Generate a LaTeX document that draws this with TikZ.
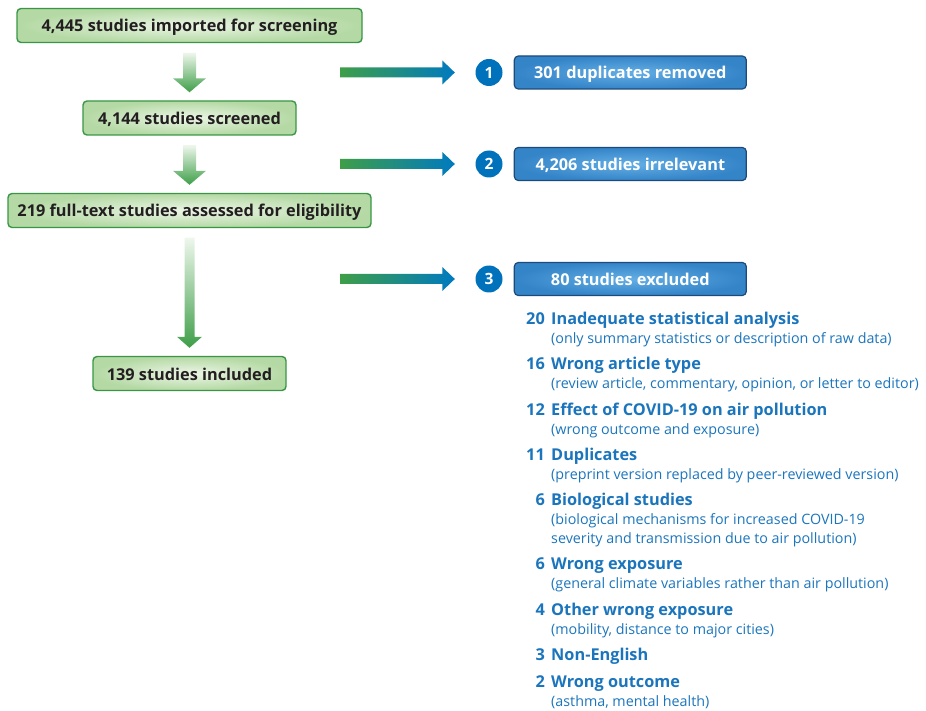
\documentclass[tikz,border=0pt]{standalone}
\usepackage{fontspec}
\setmainfont{Open Sans}
\usetikzlibrary{positioning}
\usetikzlibrary{calc}

\definecolor{edgegreen}{RGB}{58,150,70}
\definecolor{glowgreen}{RGB}{236,246,230}
\definecolor{rimgreen}{RGB}{180,217,164}
\definecolor{flowgreen}{RGB}{62,158,72}
\definecolor{flowlight}{RGB}{238,247,236}
\definecolor{flowblue}{RGB}{0,122,192}
\definecolor{dotblue}{RGB}{0,114,188}
\definecolor{glowblue}{RGB}{100,174,228}
\definecolor{rimblue}{RGB}{52,132,200}
\definecolor{edgeblue}{RGB}{28,75,122}
\definecolor{listblue}{RGB}{27,117,188}
\definecolor{ink}{RGB}{35,31,32}

% fat shaded arrow between two stacked boxes
\newcommand{\vflow}[5]{%
  \shade[top color=flowlight, bottom color=flowgreen]
    let \p1=(#1.south), \p2=(#2.north) in
    (\x1-#3,\y1-9.5pt) -- (\x1+#3,\y1-9.5pt) -- (\x1+#3,\y2+8pt+#5)
    -- (\x1+#4,\y2+8pt+#5) -- (\x1,\y2+8pt) -- (\x1-#4,\y2+8pt+#5)
    -- (\x1-#3,\y2+8pt+#5) -- cycle;}
% fat shaded arrow from a free tail to a numbered dot
\newcommand{\hflow}[2]{%
  \shade[left color=flowgreen, right color=flowblue]
    let \p1=(#1), \p2=(#2.west) in
    (\x1,\y1+5pt) -- (\x2-33pt,\y1+5pt) -- (\x2-33pt,\y1+12pt)
    -- (\x2-20.5pt,\y1) -- (\x2-33pt,\y1-12pt) -- (\x2-33pt,\y1-5pt)
    -- (\x1,\y1-5pt) -- cycle;}

\begin{document}
\begin{tikzpicture}[x=1pt, y=-1pt, node distance=92.5pt]
\tikzstyle{stagebox} = [draw=edgegreen, line width=1.4pt, rounded corners=4pt, inner color=glowgreen, outer color=rimgreen, minimum height=34pt, text height=14pt, text depth=1pt, text=ink, font=\fontsize{16.3}{19}\selectfont\bfseries]
\tikzstyle{outcomebox} = [draw=edgeblue, line width=1.2pt, rounded corners=4pt, inner color=glowblue, outer color=rimblue, minimum width=232pt, minimum height=33pt, text height=14pt, text depth=1pt, text=white, font=\fontsize{16.3}{19}\selectfont\bfseries]
\tikzstyle{stepdot} = [circle, fill=dotblue, minimum size=27pt, inner sep=0pt, text=white, font=\fontsize{15.5}{18}\selectfont\bfseries]
\tikzstyle{reason} = [anchor=base west, inner sep=0pt, text=listblue, font=\fontsize{16.3}{19}\selectfont\bfseries]
\tikzstyle{tally} = [anchor=base east, inner sep=0pt, text=listblue, font=\fontsize{16.3}{19}\selectfont\bfseries]
\tikzstyle{remark} = [anchor=base west, inner sep=0pt, text=listblue, font=\fontsize{14.3}{17}\selectfont]

\useasboundingbox (0,0) rectangle (926,711);

\node[stagebox, minimum width=345pt] (imported) at (189.5,25.5) {4,445 studies imported for screening};
\node[stagebox, minimum width=213pt] (screened) [below of=imported] {4,144 studies screened};
\node[stagebox, minimum width=363pt] (assessed) [below of=screened] {219 full-text studies assessed for eligibility};
\node[stagebox, minimum width=193pt, node distance=163pt] (included) [below of=assessed] {139 studies included};

\vflow{imported}{screened}{6.5pt}{16.5pt}{14pt}
\vflow{screened}{assessed}{6.5pt}{16.5pt}{14pt}
\vflow{assessed}{included}{5pt}{12.5pt}{11pt}

\node[stepdot] (dot1) at (489,72.5) {1};
\node[stepdot] (dot2) at (489,164) {2};
\node[stepdot] (dot3) at (489,279) {3};
\node[outcomebox, right=11pt of dot1] (removed) {301 duplicates removed};
\node[outcomebox, right=11pt of dot2] (irrelevant) {4,206 studies irrelevant};
\node[outcomebox, right=11pt of dot3] (excluded) {80 studies excluded};

\coordinate (tail1) at (340,72.5);
\coordinate (tail2) at (340,164);
\coordinate (tail3) at (340,279);
\hflow{tail1}{dot1}
\hflow{tail2}{dot2}
\hflow{tail3}{dot3}

% reasons for exclusion
\node[reason] (why20) at (551,324) {Inadequate statistical analysis};
\node[reason] (why16) at (551,369) {Wrong article type};
\node[reason] (why12) at (551,415) {Effect of COVID-19 on air pollution};
\node[reason] (why11) at (551,460) {Duplicates};
\node[reason] (whybio) at (551,505) {Biological studies};
\node[reason] (whyexp) at (551,569) {Wrong exposure};
\node[reason] (whyother) at (551,615) {Other wrong exposure};
\node[reason] (whylang) at (551,660) {Non-English};
\node[reason] (whyout) at (551,687) {Wrong outcome};

\node[tally] at ([xshift=-6pt]why20.base west) {20};
\node[tally] at ([xshift=-6pt]why16.base west) {16};
\node[tally] at ([xshift=-6pt]why12.base west) {12};
\node[tally] at ([xshift=-6pt]why11.base west) {11};
\node[tally] at ([xshift=-6pt]whybio.base west) {6};
\node[tally] at ([xshift=-6pt]whyexp.base west) {6};
\node[tally] at ([xshift=-6pt]whyother.base west) {4};
\node[tally] at ([xshift=-6pt]whylang.base west) {3};
\node[tally] at ([xshift=-6pt]whyout.base west) {2};

\node[remark] (note20) at ([yshift=-19pt]why20.base west) {(only summary statistics or description of raw data)};
\node[remark] (note16) at ([yshift=-19pt]why16.base west) {(review article, commentary, opinion, or letter to editor)};
\node[remark] (note12) at ([yshift=-19pt]why12.base west) {(wrong outcome and exposure)};
\node[remark] (note11) at ([yshift=-19pt]why11.base west) {(preprint version replaced by peer-reviewed version)};
\node[remark] (notebio) at ([yshift=-19pt]whybio.base west) {(biological mechanisms for increased COVID-19};
\node[remark] (notebio2) at ([yshift=-19pt]notebio.base west) {severity and transmission due to air pollution)};
\node[remark] (noteexp) at ([yshift=-19pt]whyexp.base west) {(general climate variables rather than air pollution)};
\node[remark] (noteother) at ([yshift=-19pt]whyother.base west) {(mobility, distance to major cities)};
\node[remark] (noteout) at ([yshift=-19pt]whyout.base west) {(asthma, mental health)};
\end{tikzpicture}
\end{document}
